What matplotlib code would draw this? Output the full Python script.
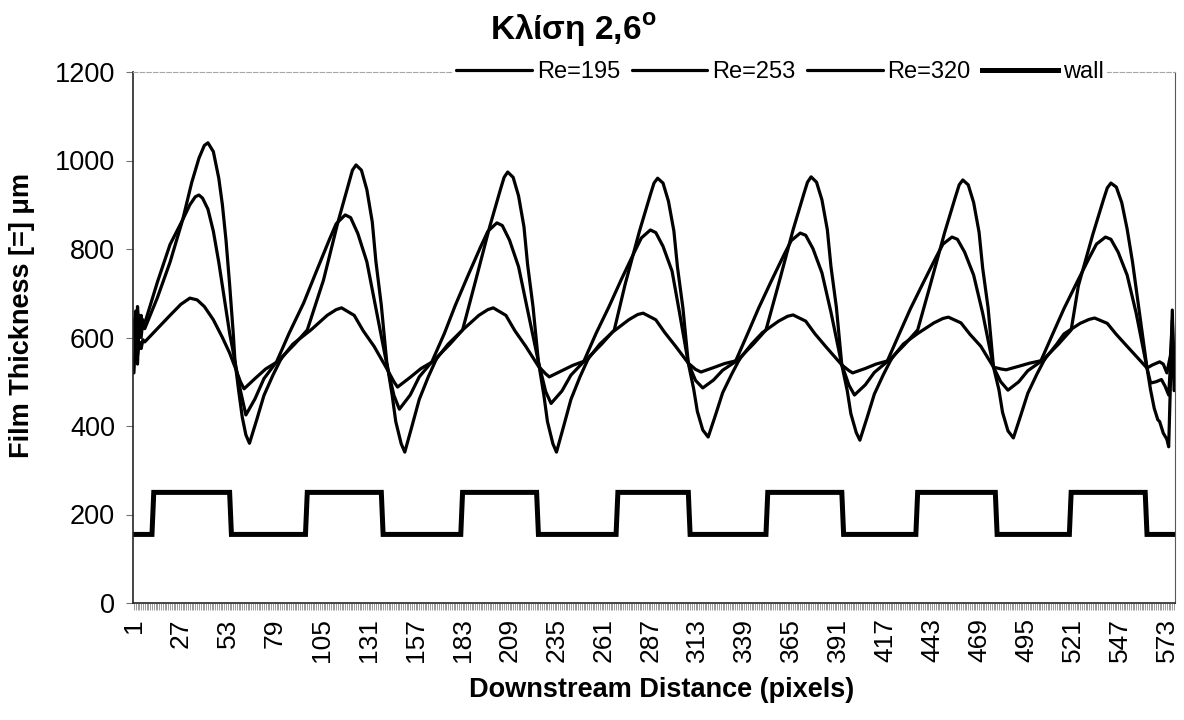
import numpy as np
import matplotlib.pyplot as plt

plt.rcParams['font.family'] = ['Liberation Sans', 'DejaVu Sans']
plt.rcParams['mathtext.fontset'] = 'custom'
plt.rcParams['mathtext.rm'] = 'Liberation Sans:bold'

# film thickness profiles, (pixel index, thickness in um)
re195 = [(1, 520), (2, 610), (3, 560), (4, 590), (5, 575), (6, 595), (7, 590), (14, 620), (21, 650), (27, 675),
         (32, 689), (36, 685), (40, 670), (45, 640), (50, 600), (54, 565), (57, 533), (60, 500), (62, 484),
         (68, 507), (74, 529), (82, 549), (89, 585), (99, 617), (108, 650), (113, 663), (116, 667), (123, 650),
         (128, 615), (134, 580), (141, 530), (145, 500), (147, 488),
         (154, 510), (160, 530), (168, 549), (175, 585), (183, 617), (192, 650), (197, 663), (200, 667), (207, 650),
         (212, 615), (218, 580), (225, 535), (229, 518), (231, 511),
         (238, 525), (244, 537), (252, 549), (259, 585), (266, 612), (275, 640), (280, 652), (283, 655), (290, 640),
         (295, 611), (301, 580), (308, 542), (312, 528), (315, 522),
         (322, 532), (328, 541), (336, 549), (343, 585), (349, 611), (358, 637), (363, 648), (366, 651), (373, 637),
         (378, 609), (384, 580), (393, 538), (397, 525), (399, 520),
         (406, 530), (412, 540), (420, 549), (427, 585), (435, 609), (444, 633), (449, 643), (452, 646), (459, 633),
         (464, 607), (470, 580), (477, 533), (481, 529), (484, 527),
         (491, 535), (497, 542), (505, 549), (512, 585), (516, 608), (525, 632), (530, 641), (533, 644), (540, 632),
         (545, 607), (551, 580), (562, 531),
         (565, 538), (569, 545), (571, 540), (573, 520), (575, 560), (576, 640), (577, 540)]

re253 = [(1, 640), (2, 560), (3, 670), (4, 610), (5, 650), (6, 620), (7, 632), (14, 725), (21, 810), (28, 866),
         (32, 900), (35, 918), (37, 922), (39, 915), (42, 890), (45, 840), (48, 770), (51, 690), (54, 610), (57, 545),
         (60, 480), (63, 425),
         (68, 461), (73, 507), (80, 545), (87, 610), (95, 678), (102, 749), (109, 819), (113, 857), (118, 877),
         (121, 871), (125, 835), (130, 771), (135, 666), (141, 540), (145, 469), (148, 438),
         (154, 470), (159, 511), (166, 545), (173, 610), (179, 673), (186, 740), (193, 805), (197, 840), (202, 859),
         (205, 853), (209, 820), (214, 760), (219, 662), (225, 545), (229, 478), (232, 451),
         (238, 479), (243, 515), (250, 545), (257, 610), (264, 669), (271, 732), (278, 792), (282, 825), (287, 843),
         (290, 837), (294, 806), (299, 750), (303, 659), (308, 542), (312, 503), (316, 486),
         (322, 504), (327, 526), (334, 545), (341, 610), (347, 667), (354, 728), (361, 787), (365, 819), (370, 836),
         (373, 831), (377, 801), (382, 746), (387, 657), (393, 538), (397, 492), (400, 470),
         (406, 493), (411, 521), (418, 545), (425, 610), (431, 665), (438, 723), (445, 780), (449, 811), (454, 827),
         (457, 822), (461, 793), (466, 741), (471, 655), (477, 533), (481, 500), (485, 481),
         (491, 500), (496, 525), (503, 545), (510, 610), (516, 665), (523, 723), (530, 780), (534, 811), (539, 827),
         (542, 822), (546, 793), (551, 741), (556, 655), (562, 531),
         (564, 497), (567, 500), (570, 505), (572, 490), (574, 470), (575, 540), (576, 600), (577, 520)]

re320 = [(1, 600), (2, 660), (3, 540), (4, 650), (5, 600), (6, 640), (7, 620), (14, 690), (21, 770), (28, 866),
         (33, 950), (37, 1005), (40, 1034), (42, 1040), (45, 1020), (48, 960), (50, 900), (52, 820), (54, 720),
         (56, 610), (57, 545), (59, 480), (61, 420), (63, 380),
         (65, 361), (69, 414), (73, 469), (78, 515), (83, 556), (90, 585), (97, 617), (106, 730), (114, 861),
         (120, 949), (122, 978), (124, 990), (127, 978), (130, 934), (133, 861), (135, 772), (138, 673), (141, 545),
         (144, 470), (146, 410), (149, 360),
         (151, 341), (155, 400), (159, 460), (164, 511), (169, 556), (176, 585), (183, 617), (190, 725), (198, 850),
         (204, 935), (206, 962), (208, 974), (211, 962), (214, 920), (217, 850), (219, 765), (222, 670), (225, 545),
         (228, 470), (230, 410), (233, 360),
         (235, 341), (239, 400), (243, 460), (248, 511), (253, 556), (260, 585), (267, 617), (273, 720), (281, 841),
         (287, 923), (289, 949), (291, 960), (294, 949), (297, 908), (300, 841), (302, 759), (305, 667), (308, 542),
         (311, 483), (313, 433), (316, 391),
         (319, 375), (323, 424), (327, 475), (332, 517), (337, 556), (344, 585), (351, 617), (358, 721), (366, 843),
         (372, 925), (374, 951), (376, 963), (379, 951), (382, 911), (385, 843), (387, 760), (390, 668), (393, 538),
         (396, 480), (398, 428), (401, 385),
         (403, 368), (407, 419), (411, 472), (416, 516), (421, 556), (428, 585), (435, 617), (442, 719), (450, 838),
         (456, 919), (458, 945), (460, 956), (463, 945), (466, 905), (469, 838), (471, 757), (474, 667), (477, 533),
         (480, 482), (482, 431), (485, 389),
         (488, 373), (492, 423), (496, 474), (501, 517), (506, 556), (513, 585), (520, 617), (524, 717), (532, 833),
         (538, 913), (540, 938), (542, 949), (545, 940), (548, 905), (551, 845), (554, 770), (557, 680), (560, 590),
         (562, 531),
         (564, 481), (566, 440), (568, 414), (569, 410), (571, 384), (573, 370), (574, 353), (575, 500), (576, 662),
         (577, 480)]

# corrugated wall: first pixel of each flat run, alternating low / high
wall_start = [1, 12, 55, 97, 139, 183, 225, 269, 309, 352, 394, 435, 479, 520, 562]
wall_low = 155
wall_high = 250
N_PIX = 577

xticks = list(range(1, N_PIX + 1, 26))

pix = np.arange(1, N_PIX + 1)
wall = np.empty(N_PIX)
bounds = wall_start + [N_PIX + 1]
for i in range(len(wall_start)):
    wall[bounds[i] - 1:bounds[i + 1] - 1] = wall_low if i % 2 == 0 else wall_high

fig = plt.figure(figsize=(11.84, 7.2), dpi=100)
ax = fig.add_axes([133 / 1184, 117 / 720, 1042 / 1184, 531 / 720])

LW = 2.3
series = [("Re=195", re195), ("Re=253", re253), ("Re=320", re320)]
handles = []
for name, pts in series:
    x, y = zip(*pts)
    h, = ax.plot(x, y, color="black", lw=LW, solid_joinstyle="round", solid_capstyle="round", label=name)
    handles.append(h)
hw, = ax.plot(pix, wall, color="black", lw=3.6, solid_joinstyle="miter", label="wall")
handles.append(hw)

ax.set_xlim(0.5, N_PIX + 0.5)
ax.set_ylim(0, 1200)
ax.set_yticks(range(0, 1201, 200))
ax.set_xticks(xticks)
ax.set_xticklabels([str(t) for t in xticks], rotation=90, fontsize=19)
ax.set_xticks(pix, minor=True)
ax.tick_params(axis="x", which="both", direction="out", length=5, width=0.5, color="0.45", pad=6)
ax.tick_params(axis="y", direction="out", length=5, width=0.8, color="0.45", labelsize=19.5, pad=8)

for side in ["left", "bottom"]:
    ax.spines[side].set_color("0.15")
    ax.spines[side].set_linewidth(1.2)
ax.spines["right"].set_color("0.35")
ax.spines["right"].set_linewidth(0.8)
ax.spines["top"].set_color("0.65")
ax.spines["top"].set_linewidth(0.8)
ax.spines["top"].set_linestyle((0, (4, 2)))

fig.text(573 / 1184, 1 - 30 / 720, "Κλίση 2,6$^{\\mathrm{o}}$", ha="center", va="center",
         fontsize=24, fontweight="bold")
fig.text(22 / 1184, 1 - 316 / 720, "Film Thickness [=] μm", rotation=90, ha="center", va="center",
         fontsize=19.5, fontweight="bold")
fig.text(662 / 1184, 1 - 690 / 720, "Downstream Distance (pixels)", ha="center", va="center",
         fontsize=19.5, fontweight="bold")

leg = fig.legend(handles=handles, loc="center", bbox_to_anchor=(780 / 1184, 1 - 72 / 720), ncol=4,
                 fontsize=17, frameon=True, facecolor="white", edgecolor="none", framealpha=1,
                 handlelength=3.2, handletextpad=0.2, columnspacing=0.5, borderpad=0.15)

fig.savefig("out.png", dpi=100, facecolor="white")
